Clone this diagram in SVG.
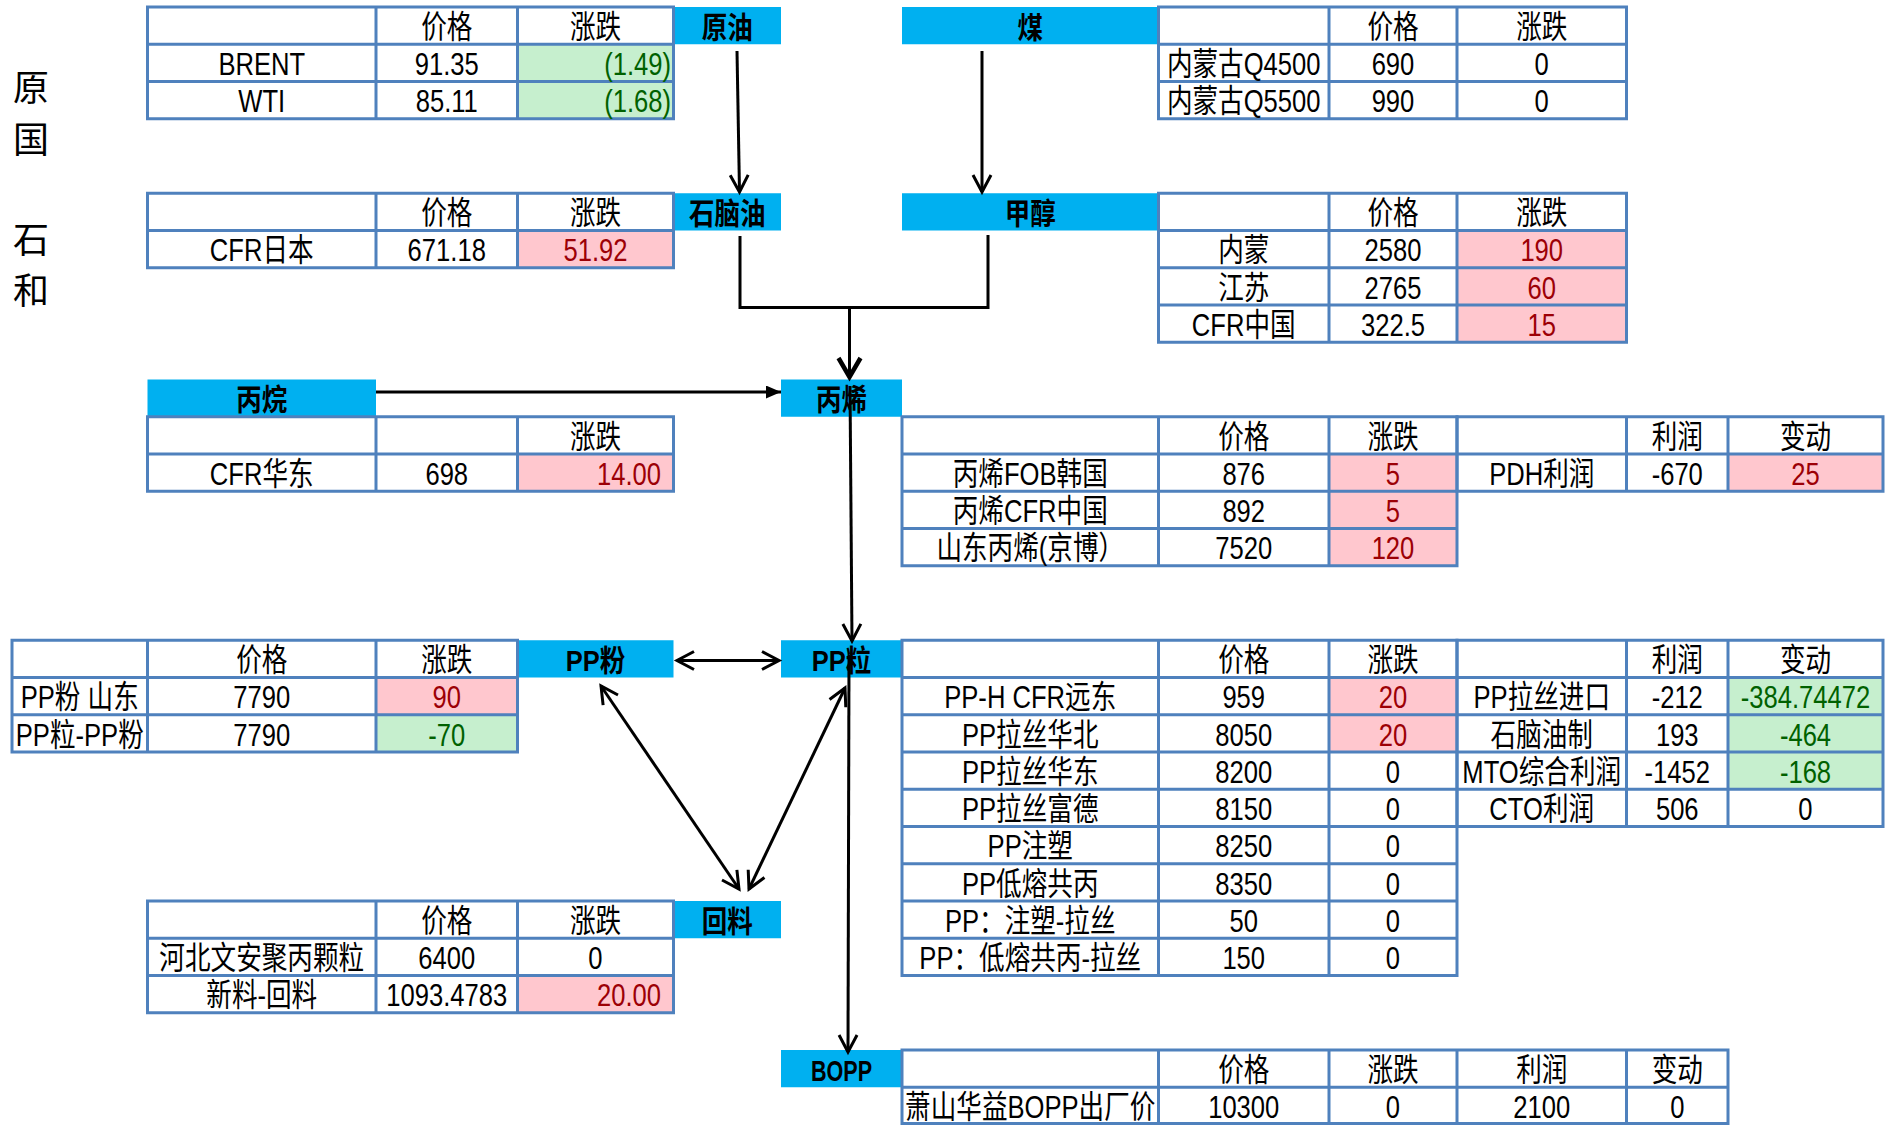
<svg xmlns="http://www.w3.org/2000/svg" width="1896" height="1125" viewBox="0 0 1896 1125">
<style>
.bx{fill:#00B0F0}
.gr{fill:none;stroke:#4F81BD;stroke-width:3}
.fg{fill:#C6EFCE}
.fp{fill:#FFC7CE}
text{font-family:"Liberation Sans","Noto Sans CJK SC",sans-serif;font-size:32px;text-anchor:middle;fill:#000;transform-box:fill-box;transform-origin:center;transform:scaleX(.8)}
text.r{text-anchor:end;transform-origin:right center}
text.tg{fill:#006100}
text.tp{fill:#9C0006}
text.h{font-weight:bold;font-size:30px;transform:scaleX(.85)}
text.hl{font-weight:bold;font-size:30px;transform:scaleX(.72)}
text.m{font-family:"Noto Sans CJK SC",serif;font-size:36px;text-anchor:start;transform:none}
.cn{fill:none;stroke:#000;stroke-width:3}
</style>
<defs>
<marker id="ah" markerUnits="userSpaceOnUse" viewBox="0 0 24 24" markerWidth="24" markerHeight="24" refX="20" refY="12" orient="auto-start-reverse">
<path d="M3 3L20 12L3 21" fill="none" stroke="#000" stroke-width="3"/>
</marker>
<marker id="ahb" markerUnits="userSpaceOnUse" viewBox="0 0 28 28" markerWidth="28" markerHeight="28" refX="23" refY="14" orient="auto">
<path d="M4 3L23 14L4 25" fill="none" stroke="#000" stroke-width="4.5"/>
</marker>
<marker id="tri" markerUnits="userSpaceOnUse" viewBox="0 0 15 13" markerWidth="15" markerHeight="13" refX="15" refY="6.5" orient="auto">
<path d="M0 0L15 6.5L0 13Z" fill="#000"/>
</marker>
</defs>
<rect width="1896" height="1125" fill="#fff"/>

<g id="margin-text">
<text class="m" x="13" y="101">原</text>
<text class="m" x="13" y="153">国</text>
<text class="m" x="13" y="253">石</text>
<text class="m" x="13" y="304">和</text>
</g>

<g id="node-crude">
<rect class="bx" x="673.5" y="7" width="107.5" height="37.25"/>
<text class="h" x="727.25" y="38">原油</text>
<rect class="fg" x="517.5" y="44.25" width="156" height="74.5"/>
<path class="gr" d="M147.5 7H673.5V118.75H147.5Z M376 7V118.75 M517.5 7V118.75 M147.5 44.25H673.5 M147.5 81.5H673.5"/>
<text x="446.75" y="38">价格</text>
<text x="595.5" y="38">涨跌</text>
<text x="261.75" y="75.25">BRENT</text>
<text x="446.75" y="75.25">91.35</text>
<text class="r tg" x="671" y="75.25">(1.49)</text>
<text x="261.75" y="112.5">WTI</text>
<text x="446.75" y="112.5">85.11</text>
<text class="r tg" x="671" y="112.5">(1.68)</text>
</g>

<g id="node-coal">
<rect class="bx" x="902" y="7" width="256.5" height="37.25"/>
<text class="h" x="1030.25" y="38">煤</text>
<path class="gr" d="M1158.5 7H1626.5V118.75H1158.5Z M1329 7V118.75 M1457 7V118.75 M1158.5 44.25H1626.5 M1158.5 81.5H1626.5"/>
<text x="1393" y="38">价格</text>
<text x="1541.75" y="38">涨跌</text>
<text x="1243.75" y="75.25">内蒙古Q4500</text>
<text x="1393" y="75.25">690</text>
<text x="1541.75" y="75.25">0</text>
<text x="1243.75" y="112.5">内蒙古Q5500</text>
<text x="1393" y="112.5">990</text>
<text x="1541.75" y="112.5">0</text>
</g>

<g id="node-naphtha">
<rect class="bx" x="673.5" y="193.25" width="107.5" height="37.25"/>
<text class="h" x="727.25" y="224.25">石脑油</text>
<rect class="fp" x="517.5" y="230.5" width="156" height="37.25"/>
<path class="gr" d="M147.5 193.25H673.5V267.75H147.5Z M376 193.25V267.75 M517.5 193.25V267.75 M147.5 230.5H673.5"/>
<text x="446.75" y="224.25">价格</text>
<text x="595.5" y="224.25">涨跌</text>
<text x="261.75" y="261.5">CFR日本</text>
<text x="446.75" y="261.5">671.18</text>
<text class="tp" x="595.5" y="261.5">51.92</text>
</g>

<g id="node-methanol">
<rect class="bx" x="902" y="193.25" width="256.5" height="37.25"/>
<text class="h" x="1030.25" y="224.25">甲醇</text>
<rect class="fp" x="1457" y="230.5" width="169.5" height="111.75"/>
<path class="gr" d="M1158.5 193.25H1626.5V342.25H1158.5Z M1329 193.25V342.25 M1457 193.25V342.25 M1158.5 230.5H1626.5 M1158.5 267.75H1626.5 M1158.5 305H1626.5"/>
<text x="1393" y="224.25">价格</text>
<text x="1541.75" y="224.25">涨跌</text>
<text x="1243.75" y="261.5">内蒙</text>
<text x="1393" y="261.5">2580</text>
<text class="tp" x="1541.75" y="261.5">190</text>
<text x="1243.75" y="298.75">江苏</text>
<text x="1393" y="298.75">2765</text>
<text class="tp" x="1541.75" y="298.75">60</text>
<text x="1243.75" y="336">CFR中国</text>
<text x="1393" y="336">322.5</text>
<text class="tp" x="1541.75" y="336">15</text>
</g>

<g id="node-propane">
<rect class="bx" x="147.5" y="379.5" width="228.5" height="37.25"/>
<text class="h" x="261.75" y="410.5">丙烷</text>
<rect class="fp" x="517.5" y="454" width="156" height="37.25"/>
<path class="gr" d="M147.5 416.75H673.5V491.25H147.5Z M376 416.75V491.25 M517.5 416.75V491.25 M147.5 454H673.5"/>
<text x="595.5" y="447.75">涨跌</text>
<text x="261.75" y="485">CFR华东</text>
<text x="446.75" y="485">698</text>
<text class="r tp" x="661" y="485">14.00</text>
</g>

<g id="node-propylene">
<rect class="bx" x="781" y="379.5" width="121" height="37.25"/>
<text class="h" x="841.5" y="410.5">丙烯</text>
<rect class="fp" x="1329" y="454" width="128" height="111.75"/>
<rect class="fp" x="1728" y="454" width="155" height="37.25"/>
<path class="gr" d="M902 416.75H1457V565.75H902Z M1158.5 416.75V565.75 M1329 416.75V565.75 M902 454H1457 M902 491.25H1457 M902 528.5H1457"/>
<path class="gr" d="M1457 416.75H1883V491.25H1457Z M1626.5 416.75V491.25 M1728 416.75V491.25 M1457 454H1883"/>
<text x="1243.75" y="447.75">价格</text>
<text x="1393" y="447.75">涨跌</text>
<text x="1677.25" y="447.75">利润</text>
<text x="1805.5" y="447.75">变动</text>
<text x="1030.25" y="485">丙烯FOB韩国</text>
<text x="1243.75" y="485">876</text>
<text class="tp" x="1393" y="485">5</text>
<text x="1541.75" y="485">PDH利润</text>
<text x="1677.25" y="485">-670</text>
<text class="tp" x="1805.5" y="485">25</text>
<text x="1030.25" y="522.25">丙烯CFR中国</text>
<text x="1243.75" y="522.25">892</text>
<text class="tp" x="1393" y="522.25">5</text>
<text x="1030.25" y="559.5">山东丙烯(京博）</text>
<text x="1243.75" y="559.5">7520</text>
<text class="tp" x="1393" y="559.5">120</text>
</g>

<g id="node-pp-powder">
<rect class="bx" x="517.5" y="640.25" width="156" height="37.25"/>
<text class="h" x="595.5" y="671.25">PP粉</text>
<rect class="fp" x="376" y="677.5" width="141.5" height="37.25"/>
<rect class="fg" x="376" y="714.75" width="141.5" height="37.25"/>
<path class="gr" d="M12 640.25H517.5V752H12Z M147.5 640.25V752 M376 640.25V752 M12 677.5H517.5 M12 714.75H517.5"/>
<text x="261.75" y="671.25">价格</text>
<text x="446.75" y="671.25">涨跌</text>
<text x="79.75" y="708.5">PP粉 山东</text>
<text x="261.75" y="708.5">7790</text>
<text class="tp" x="446.75" y="708.5">90</text>
<text x="79.75" y="745.75">PP粒-PP粉</text>
<text x="261.75" y="745.75">7790</text>
<text class="tg" x="446.75" y="745.75">-70</text>
</g>

<g id="node-pp-pellet">
<rect class="bx" x="781" y="640.25" width="121" height="37.25"/>
<text class="h" x="841.5" y="671.25">PP粒</text>
<rect class="fp" x="1329" y="677.5" width="128" height="74.5"/>
<rect class="fg" x="1728" y="677.5" width="155" height="111.75"/>
<path class="gr" d="M902 640.25H1457V975.5H902Z M1158.5 640.25V975.5 M1329 640.25V975.5 M902 677.5H1457 M902 714.75H1457 M902 752H1457 M902 789.25H1457 M902 826.5H1457 M902 863.75H1457 M902 901H1457 M902 938.25H1457"/>
<path class="gr" d="M1457 640.25H1883V826.5H1457Z M1626.5 640.25V826.5 M1728 640.25V826.5 M1457 677.5H1883 M1457 714.75H1883 M1457 752H1883 M1457 789.25H1883"/>
<text x="1243.75" y="671.25">价格</text>
<text x="1393" y="671.25">涨跌</text>
<text x="1677.25" y="671.25">利润</text>
<text x="1805.5" y="671.25">变动</text>
<text x="1030.25" y="708.5">PP-H CFR远东</text>
<text x="1243.75" y="708.5">959</text>
<text class="tp" x="1393" y="708.5">20</text>
<text x="1541.75" y="708.5">PP拉丝进口</text>
<text x="1677.25" y="708.5">-212</text>
<text class="tg" x="1805.5" y="708.5">-384.74472</text>
<text x="1030.25" y="745.75">PP拉丝华北</text>
<text x="1243.75" y="745.75">8050</text>
<text class="tp" x="1393" y="745.75">20</text>
<text x="1541.75" y="745.75">石脑油制</text>
<text x="1677.25" y="745.75">193</text>
<text class="tg" x="1805.5" y="745.75">-464</text>
<text x="1030.25" y="783">PP拉丝华东</text>
<text x="1243.75" y="783">8200</text>
<text x="1393" y="783">0</text>
<text x="1541.75" y="783">MTO综合利润</text>
<text x="1677.25" y="783">-1452</text>
<text class="tg" x="1805.5" y="783">-168</text>
<text x="1030.25" y="820.25">PP拉丝富德</text>
<text x="1243.75" y="820.25">8150</text>
<text x="1393" y="820.25">0</text>
<text x="1541.75" y="820.25">CTO利润</text>
<text x="1677.25" y="820.25">506</text>
<text x="1805.5" y="820.25">0</text>
<text x="1030.25" y="857.5">PP注塑</text>
<text x="1243.75" y="857.5">8250</text>
<text x="1393" y="857.5">0</text>
<text x="1030.25" y="894.75">PP低熔共丙</text>
<text x="1243.75" y="894.75">8350</text>
<text x="1393" y="894.75">0</text>
<text x="1030.25" y="932">PP：注塑-拉丝</text>
<text x="1243.75" y="932">50</text>
<text x="1393" y="932">0</text>
<text x="1030.25" y="969.25">PP：低熔共丙-拉丝</text>
<text x="1243.75" y="969.25">150</text>
<text x="1393" y="969.25">0</text>
</g>

<g id="node-recycled">
<rect class="bx" x="673.5" y="901" width="107.5" height="37.25"/>
<text class="h" x="727.25" y="932">回料</text>
<rect class="fp" x="517.5" y="975.5" width="156" height="37.25"/>
<path class="gr" d="M147.5 901H673.5V1012.75H147.5Z M376 901V1012.75 M517.5 901V1012.75 M147.5 938.25H673.5 M147.5 975.5H673.5"/>
<text x="446.75" y="932">价格</text>
<text x="595.5" y="932">涨跌</text>
<text x="261.75" y="969.25">河北文安聚丙颗粒</text>
<text x="446.75" y="969.25">6400</text>
<text x="595.5" y="969.25">0</text>
<text x="261.75" y="1006.5">新料-回料</text>
<text x="446.75" y="1006.5">1093.4783</text>
<text class="r tp" x="661" y="1006.5">20.00</text>
</g>

<g id="node-bopp">
<rect class="bx" x="781" y="1050" width="121" height="37.25"/>
<text class="hl" x="841.5" y="1081">BOPP</text>
<path class="gr" d="M902 1050H1728V1123.5H902Z M1158.5 1050V1123.5 M1329 1050V1123.5 M1457 1050V1123.5 M1626.5 1050V1123.5 M902 1087.25H1728"/>
<text x="1243.75" y="1081">价格</text>
<text x="1393" y="1081">涨跌</text>
<text x="1541.75" y="1081">利润</text>
<text x="1677.25" y="1081">变动</text>
<text x="1030.25" y="1118.25">萧山华益BOPP出厂价</text>
<text x="1243.75" y="1118.25">10300</text>
<text x="1393" y="1118.25">0</text>
<text x="1541.75" y="1118.25">2100</text>
<text x="1677.25" y="1118.25">0</text>
</g>

<g id="connectors">
<line class="cn" x1="737" y1="51" x2="739.5" y2="192" marker-end="url(#ah)"/>
<line class="cn" x1="982" y1="51" x2="982" y2="192" marker-end="url(#ah)"/>
<path class="cn" stroke-width="3.5" d="M740 236V307.5H988V235"/>
<line class="cn" stroke-width="5.5" x1="849.5" y1="307.5" x2="849.5" y2="377" marker-end="url(#ahb)"/>
<line class="cn" x1="376" y1="392" x2="781" y2="392" marker-end="url(#tri)"/>
<line class="cn" x1="850" y1="386" x2="852" y2="641" marker-end="url(#ah)"/>
<line class="cn" x1="677" y1="660.5" x2="779" y2="660.5" marker-start="url(#ah)" marker-end="url(#ah)"/>
<line class="cn" x1="601" y1="686" x2="739" y2="889" marker-start="url(#ah)" marker-end="url(#ah)"/>
<line class="cn" x1="845" y1="688" x2="749" y2="889" marker-start="url(#ah)" marker-end="url(#ah)"/>
<line class="cn" x1="849" y1="655" x2="848" y2="1052" marker-end="url(#ah)"/>
</g>
</svg>
